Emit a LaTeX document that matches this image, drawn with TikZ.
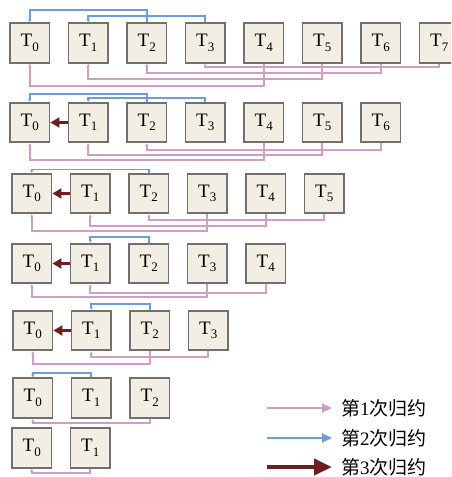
\documentclass[tikz,border=0pt]{standalone}
\usepackage{fontspec}
\setmainfont{Liberation Serif}
\newfontfamily\cjk{Noto Sans CJK SC}
\usetikzlibrary{arrows.meta}
\definecolor{pinkc}{RGB}{203,160,194}
\definecolor{bluec}{RGB}{112,156,212}
\definecolor{redc}{RGB}{110,30,32}
\definecolor{boxfill}{RGB}{242,238,228}
\definecolor{boxline}{RGB}{112,112,112}
\newcommand\Tx[1]{T\raisebox{-4.5pt}{\fontsize{13}{13}\selectfont #1}}
\newcommand\lnk[5]{%
  \path (0,#5) coordinate (lv);
  \draw[#1] (#2.#4) -- (#2.#4 |- lv) -- (#3.#4 |- lv) -- (#3.#4);}
\begin{document}
\begin{tikzpicture}[x=1pt,y=-1pt,
  tbox/.style={draw=boxline,line width=1.8pt,fill=boxfill,minimum width=39.5pt,minimum height=39.5pt,inner sep=0pt,font=\fontsize{19}{19}\selectfont},
  pinkln/.style={draw=pinkc,line width=1.6pt,-{Latex[length=3pt,width=3.5pt]}},
  blueln/.style={draw=bluec,line width=1.6pt,-{Latex[length=3pt,width=3.5pt]}},
  redarr/.style={draw=redc,line width=3pt,-{Triangle[length=9pt,width=10pt]}},
  pinkleg/.style={draw=pinkc,line width=2pt,-{Triangle[length=10pt,width=9pt]}},
  blueleg/.style={draw=bluec,line width=2pt,-{Triangle[length=10pt,width=9pt]}},
  redleg/.style={draw=redc,line width=4.5pt,-{Triangle[length=18pt,width=16pt]}},
  legtext/.style={anchor=west,inner sep=0pt,font=\cjk\fontsize{19}{19}\selectfont}]
\useasboundingbox (0,0) rectangle (451,477);
\clip (0,0) rectangle (451,477);
% row 1
\foreach \i in {0,...,7} \node[tbox] (a\i) at ({29.75+58.5*\i},43) {\Tx{\i}};
\lnk{blueln}{a2}{a0}{north}{10}
\lnk{blueln}{a3}{a1}{north}{16}
\lnk{pinkln}{a7}{a3}{south}{67}
\lnk{pinkln}{a6}{a2}{south}{73}
\lnk{pinkln}{a5}{a1}{south}{79}
\lnk{pinkln}{a4}{a0}{south}{86}
% row 2
\foreach \i in {0,...,6} \node[tbox] (b\i) at ({29.75+58.5*\i},122.5) {\Tx{\i}};
\lnk{blueln}{b2}{b0}{north}{94}
\lnk{blueln}{b3}{b1}{north}{98}
\lnk{pinkln}{b6}{b2}{south}{150}
\lnk{pinkln}{b5}{b1}{south}{155}
\lnk{pinkln}{b4}{b0}{south}{160}
\draw[redarr] (b1.west) -- (b0.east);
% row 3
\foreach \i in {0,...,5} \node[tbox] (c\i) at ({31.75+58.5*\i},193.5) {\Tx{\i}};
\lnk{blueln}{c2}{c0}{north}{169.5}
\lnk{pinkln}{c5}{c2}{south}{220}
\lnk{pinkln}{c4}{c1}{south}{226}
\lnk{pinkln}{c3}{c0}{south}{231}
\draw[redarr] (c1.west) -- (c0.east);
% row 4
\foreach \i in {0,...,4} \node[tbox] (d\i) at ({31.75+58.5*\i},263.5) {\Tx{\i}};
\lnk{blueln}{d2}{d1}{north}{237}
\lnk{pinkln}{d4}{d1}{south}{293}
\lnk{pinkln}{d3}{d0}{south}{297}
\draw[redarr] (d1.west) -- (d0.east);
% row 5
\foreach \i in {0,...,3} \node[tbox] (e\i) at ({32.75+58.5*\i},330.5) {\Tx{\i}};
\lnk{blueln}{e2}{e1}{north}{304}
\lnk{pinkln}{e3}{e1}{south}{357}
\lnk{pinkln}{e2}{e0}{south}{364}
\draw[redarr] (e1.west) -- (e0.east);
% row 6
\foreach \i in {0,...,2} \node[tbox] (f\i) at ({32.75+58.5*\i},398) {\Tx{\i}};
\lnk{blueln}{f1}{f0}{north}{373}
\lnk{pinkln}{f2}{f0}{south}{423}
% row 7
\foreach \i in {0,...,1} \node[tbox] (g\i) at ({31.75+58.5*\i},448) {\Tx{\i}};
\lnk{pinkln}{g1}{g0}{south}{473}
% legend
\node[legtext] (l1) at (341,408) {第{\rmfamily 1}次归约};
\node[legtext] (l2) at (341,438) {第{\rmfamily 2}次归约};
\node[legtext] (l3) at (341,467) {第{\rmfamily 3}次归约};
\coordinate (s1) at (267,408);
\coordinate (s2) at (267,438);
\coordinate (s3) at (267,467);
\draw[pinkleg] (s1) -- ([xshift=-9pt]l1.west);
\draw[blueleg] (s2) -- ([xshift=-9pt]l2.west);
\draw[redleg] (s3) -- ([xshift=-9pt]l3.west);
\end{tikzpicture}
\end{document}
